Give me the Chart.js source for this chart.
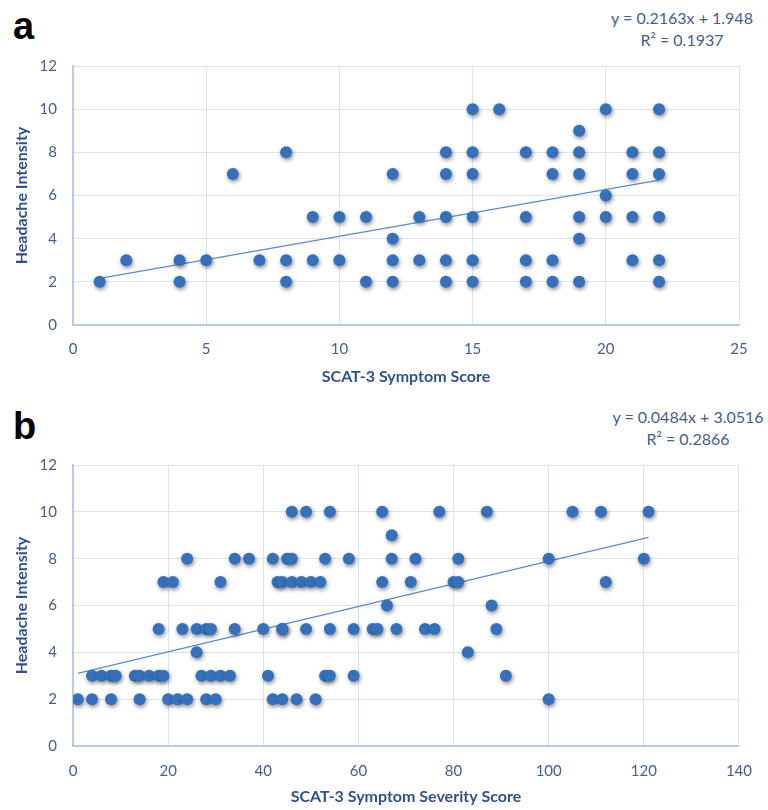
<!DOCTYPE html>
<html>
<head>
<meta charset="utf-8">
<script src="https://cdn.jsdelivr.net/npm/chart.js@4.4.1/dist/chart.umd.min.js"></script>
<style>
  html, body { margin: 0; padding: 0; background: #ffffff; }
  body { width: 768px; height: 810px; position: relative; overflow: hidden; }
  canvas { position: absolute; left: 0; }
  .panel { position: absolute; font-family: "Liberation Sans", Arial, sans-serif; font-weight: bold; font-size: 38px; color: #000; }
  .eq { position: absolute; font-family: Lato, "Open Sans", sans-serif; font-size: 16px; color: #44608c; text-align: center; line-height: 22px; width: 180px; }
</style>
</head>
<body>
<div class="panel" style="left:13px; top:5px;">a</div>
<div class="eq" style="left:592px; top:7px;">y = 0.2163x + 1.948<br>R² = 0.1937</div>
<canvas id="chartA" width="768" height="395" style="top:0px;"></canvas>

<div class="panel" style="left:13px; top:405px;">b</div>
<div class="eq" style="left:598px; top:406px;">y = 0.0484x + 3.0516<br>R² = 0.2866</div>
<canvas id="chartB" width="768" height="415" style="top:395px;"></canvas>

<script>
// panel a: SCAT-3 symptom score vs headache intensity
const scoreA = [1, 2, 4, 4, 5, 6, 7, 8, 8, 8, 9, 9, 10, 10, 11, 11,
  12, 12, 12, 12, 13, 13, 14, 14, 14, 14, 14, 15, 15, 15, 15, 15, 15, 16,
  17, 17, 17, 17, 18, 18, 18, 18, 19, 19, 19, 19, 19, 19, 20, 20, 20,
  21, 21, 21, 21, 22, 22, 22, 22, 22, 22];
const headacheA = [2, 3, 3, 2, 3, 7, 3, 8, 3, 2, 5, 3, 5, 3, 5, 2,
  7, 4, 3, 2, 5, 3, 8, 7, 5, 3, 2, 10, 8, 7, 5, 3, 2, 10,
  8, 5, 3, 2, 8, 7, 3, 2, 9, 8, 7, 5, 4, 2, 10, 6, 5,
  8, 7, 5, 3, 10, 8, 7, 5, 3, 2];
const trendAX = [1, 22];
const trendAY = [2.16, 6.71];
const xTicksA = [0, 5, 10, 15, 20, 25];

// panel b: SCAT-3 symptom severity score vs headache intensity
const severityB = [
  46, 49, 54, 65, 77, 87, 105, 111, 121,
  67,
  24, 34, 37, 42, 45, 46, 53, 58, 67, 72, 81, 100, 120,
  19, 21, 31, 43, 44, 46, 48, 50, 52, 65, 71, 80, 81, 112,
  66, 88,
  18, 23, 26, 28, 29, 34, 40, 44, 44, 49, 54, 59, 63, 64, 68, 74, 76, 89,
  26, 83,
  4, 6, 8, 9, 13, 14, 16, 18, 19, 27, 29, 31, 33, 41, 53, 54, 59, 91,
  1, 4, 8, 14, 20, 22, 24, 28, 30, 42, 44, 47, 51, 100];
const headacheB = [
  10, 10, 10, 10, 10, 10, 10, 10, 10,
  9,
  8, 8, 8, 8, 8, 8, 8, 8, 8, 8, 8, 8, 8,
  7, 7, 7, 7, 7, 7, 7, 7, 7, 7, 7, 7, 7, 7,
  6, 6,
  5, 5, 5, 5, 5, 5, 5, 5, 5, 5, 5, 5, 5, 5, 5, 5, 5, 5,
  4, 4,
  3, 3, 3, 3, 3, 3, 3, 3, 3, 3, 3, 3, 3, 3, 3, 3, 3, 3,
  2, 2, 2, 2, 2, 2, 2, 2, 2, 2, 2, 2, 2, 2];
const trendBX = [1, 121];
const trendBY = [3.10, 8.91];
const xTicksB = [0, 20, 40, 60, 80, 100, 120, 140];
const yTicks = [0, 2, 4, 6, 8, 10, 12];

const pointColor = '#3570bc';
const lineColor = '#5b8bd0';
const gridColor = '#d8e3f3';
const borderColor = '#b8cbe8';
const tickColor = '#44608c';
const titleColor = '#2f528f';

// soft drop shadow under the markers, like the spreadsheet original
const shadowPlugin = {
    id: 'pointShadow',
    beforeDatasetDraw(chart, args) {
        if (args.index !== 0) return;
        const ctx = chart.ctx;
        ctx.save();
        ctx.shadowColor = 'rgba(0,0,0,0.45)';
        ctx.shadowBlur = 4;
        ctx.shadowOffsetX = 1;
        ctx.shadowOffsetY = 2;
    },
    afterDatasetDraw(chart, args) {
        if (args.index !== 0) return;
        chart.ctx.restore();
    }
};

function toPoints(xs, ys) {
    return xs.map((x, i) => ({ x: x, y: ys[i] }));
}

function makeChart(canvasId, opts) {
    const ctx = document.getElementById(canvasId).getContext('2d');
    return new Chart(ctx, {
        type: 'scatter',
        data: {
            datasets: [
                {
                    label: 'Headache Intensity',
                    data: toPoints(opts.xs, opts.ys),
                    backgroundColor: pointColor,
                    borderColor: pointColor,
                    pointRadius: 6,
                    borderWidth: 0,
                    order: 0
                },
                {
                    type: 'line',
                    label: 'Linear',
                    data: toPoints(opts.trendX, opts.trendY),
                    borderColor: lineColor,
                    borderWidth: 1.3,
                    pointRadius: 0,
                    fill: false,
                    order: 1
                }
            ]
        },
        options: {
            responsive: false,
            animation: false,
            layout: {
                padding: { top: opts.padTop, right: opts.padRight, left: 0, bottom: 0 }
            },
            plugins: {
                legend: { display: false },
                tooltip: { enabled: false }
            },
            scales: {
                x: {
                    type: 'linear',
                    min: 0,
                    max: opts.xMax,
                    afterBuildTicks: (scale) => { scale.ticks = opts.xTicks.map(v => ({ value: v })); },
                    afterFit: (scale) => { scale.height = opts.xHeight; },
                    grid: { color: gridColor, drawTicks: false },
                    border: { color: borderColor, width: 2 },
                    ticks: {
                        color: tickColor,
                        font: { family: 'Lato', size: 15 },
                        padding: opts.xTickPad,
                        autoSkip: false,
                        maxRotation: 0
                    },
                    title: {
                        display: true,
                        text: opts.xTitle,
                        color: titleColor,
                        font: { family: 'Lato', size: 16, weight: 'bold' },
                        padding: { top: 0, bottom: opts.xTitlePad }
                    }
                },
                y: {
                    min: 0,
                    max: 12,
                    afterBuildTicks: (scale) => { scale.ticks = yTicks.map(v => ({ value: v })); },
                    afterFit: (scale) => { scale.width = 73; },
                    grid: { color: gridColor, drawTicks: false },
                    border: { color: borderColor, width: 2 },
                    ticks: {
                        color: tickColor,
                        font: { family: 'Lato', size: 15 },
                        padding: 16
                    },
                    title: {
                        display: true,
                        text: 'Headache Intensity',
                        color: titleColor,
                        font: { family: 'Lato', size: 16, weight: 'bold' },
                        padding: { top: 12, bottom: 0 }
                    }
                }
            }
        },
        plugins: [shadowPlugin]
    });
}

makeChart('chartA', {
    xs: scoreA, ys: headacheA,
    trendX: trendAX, trendY: trendAY,
    xMax: 25, xTicks: xTicksA,
    xTitle: 'SCAT-3 Symptom Score',
    padTop: 66, padRight: 29,
    xHeight: 70, xTickPad: 15, xTitlePad: 9
});

makeChart('chartB', {
    xs: severityB, ys: headacheB,
    trendX: trendBX, trendY: trendBY,
    xMax: 140, xTicks: xTicksB,
    xTitle: 'SCAT-3 Symptom Severity Score',
    padTop: 70, padRight: 15,
    xHeight: 64, xTickPad: 16, xTitlePad: 4
});
</script>
</body>
</html>
